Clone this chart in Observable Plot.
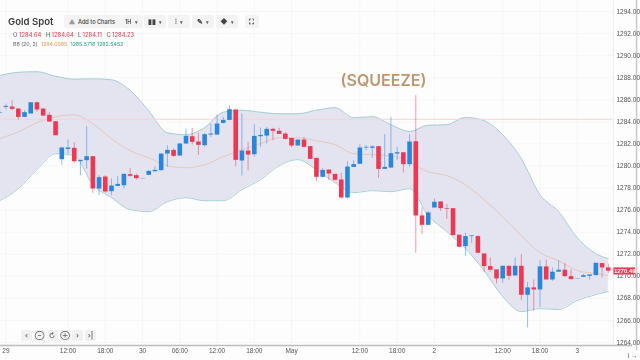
<!DOCTYPE html>
<html>
<head>
<meta charset="utf-8">
<script src="https://cdn.jsdelivr.net/npm/d3@7"></script>
<script src="https://cdn.jsdelivr.net/npm/@observablehq/plot@0.6"></script>
<style>
html,body{margin:0;padding:0;background:#fdfdfd;width:640px;height:360px;overflow:hidden}
#wrap{position:relative;width:640px;height:360px;filter:blur(.45px)}
#chart{position:absolute;left:0;top:0}
.t{position:absolute;white-space:nowrap;font-family:Inter,"Noto Sans",sans-serif}
.b{position:absolute;background:#f3f3f3;border-radius:2px;display:flex;align-items:center;justify-content:center;gap:3px;font:600 5.6px Inter,sans-serif;color:#555}
.c{top:329.5px;width:11px;height:11px;background:#f0f0f0;font-size:7px;color:#666}
</style>
</head>
<body>
<div id="wrap"></div>
<script>
const open_ = [1284.77,1285.31,1285.34,1285.16,1284.40,1284.71,1285.73,1285.16,1284.59,1284.01,1280.57,1281.50,1281.60,1280.39,1280.48,1280.84,1277.91,1279.00,1277.67,1278.15,1278.21,1279.21,1279.12,1278.82,1279.15,1279.48,1279.57,1281.08,1281.41,1280.90,1281.99,1282.65,1282.17,1281.84,1282.80,1282.80,1283.86,1284.13,1285.07,1280.45,1281.35,1281.02,1282.65,1282.71,1283.32,1283.14,1282.89,1282.50,1281.81,1282.35,1281.75,1280.69,1278.97,1279.63,1279.24,1278.73,1277.10,1279.87,1280.15,1281.63,1281.60,1281.75,1279.69,1279.81,1281.08,1281.20,1280.12,1282.20,1275.47,1274.62,1276.19,1276.74,1276.13,1276.13,1273.72,1272.69,1273.60,1273.60,1272.03,1270.88,1270.58,1269.76,1270.91,1270.03,1270.91,1268.28,1268.95,1268.76,1270.85,1269.67,1270.37,1270.55,1269.97,1269.76,1269.91,1270.00,1270.06,1271.15,1270.76];
const high_ = [1285.01,1285.61,1285.91,1285.16,1285.01,1285.76,1285.79,1285.16,1284.83,1284.01,1281.69,1282.35,1282.11,1280.51,1283.56,1280.84,1279.12,1279.12,1278.82,1279.06,1279.27,1279.78,1279.27,1278.85,1279.57,1279.93,1281.08,1281.84,1281.53,1282.05,1283.35,1283.41,1282.95,1282.95,1283.80,1284.62,1284.40,1285.46,1285.07,1284.71,1282.14,1283.74,1283.44,1283.50,1283.41,1283.41,1283.04,1282.50,1282.35,1282.59,1281.75,1280.69,1279.75,1279.63,1279.24,1279.33,1280.39,1280.48,1281.93,1281.84,1281.84,1281.75,1282.83,1284.40,1281.69,1281.20,1282.83,1286.37,1276.19,1275.89,1277.01,1276.74,1276.50,1276.13,1273.72,1273.90,1273.69,1273.69,1272.03,1271.66,1270.58,1270.91,1270.91,1271.66,1271.97,1269.43,1269.67,1271.42,1271.48,1270.76,1271.42,1271.18,1270.58,1269.79,1270.15,1270.15,1271.18,1271.18,1271.12];
const low_ = [1284.71,1285.07,1285.01,1284.16,1284.40,1284.71,1284.86,1284.46,1283.95,1282.74,1280.06,1281.08,1280.24,1279.09,1279.72,1277.52,1277.31,1277.52,1277.31,1278.15,1277.91,1278.97,1278.73,1278.82,1279.15,1279.45,1279.57,1279.87,1280.78,1280.87,1281.99,1281.90,1280.96,1281.69,1282.59,1282.80,1283.80,1284.10,1279.93,1279.09,1279.57,1280.78,1281.69,1281.99,1282.29,1282.86,1282.35,1281.63,1281.81,1281.63,1280.60,1278.58,1278.91,1278.67,1278.61,1277.00,1277.00,1279.87,1280.12,1281.38,1280.69,1278.88,1279.69,1279.81,1280.48,1279.36,1279.87,1272.09,1273.78,1274.62,1276.19,1275.89,1275.17,1273.69,1272.63,1271.79,1272.99,1272.03,1270.33,1270.37,1269.31,1269.37,1269.61,1270.03,1267.80,1265.32,1266.83,1267.19,1269.67,1269.55,1270.37,1269.91,1269.67,1269.76,1269.91,1269.67,1270.06,1269.85,1270.21];
const close_ = [1284.83,1285.40,1285.13,1284.40,1284.83,1285.73,1285.07,1284.52,1283.98,1282.74,1281.63,1281.63,1280.39,1280.51,1280.84,1277.91,1278.94,1277.64,1278.18,1278.33,1279.24,1279.06,1278.85,1278.85,1279.51,1279.60,1281.08,1281.41,1280.87,1281.99,1282.68,1282.14,1281.87,1282.83,1282.89,1283.80,1284.13,1285.10,1280.51,1281.35,1280.99,1282.68,1282.77,1283.32,1283.14,1282.86,1282.41,1281.81,1282.35,1281.69,1280.60,1278.97,1279.60,1279.27,1278.70,1277.10,1279.90,1280.12,1281.63,1281.69,1281.72,1279.69,1279.87,1281.11,1281.20,1280.12,1282.17,1275.47,1274.62,1275.74,1276.71,1276.13,1276.07,1273.69,1272.63,1273.60,1273.66,1272.09,1270.88,1270.55,1269.76,1270.91,1270.00,1270.91,1268.28,1268.95,1268.76,1270.85,1269.67,1270.37,1270.55,1269.97,1269.70,1269.79,1270.06,1270.12,1271.18,1270.76,1270.46];

const bandIndex = [0,3,6,9,12,15,18,21,24,27,30,33,36,39,42,45,48,51,54,57,60,63,66,69,72,75,78,81,84,87,90,93,96,98];
const bandUpper = [1288.18,1288.49,1288.54,1288.13,1287.86,1287.90,1287.81,1286.86,1285.01,1283.01,1282.83,1283.47,1284.87,1285.05,1284.87,1284.73,1284.73,1285.05,1285.28,1284.37,1284.46,1283.74,1283.13,1283.69,1283.74,1284.40,1284.10,1282.83,1280.66,1277.40,1275.86,1273.50,1272.05,1271.60];
const bandLower = [1276.85,1277.94,1279.66,1281.11,1280.93,1278.30,1277.12,1276.04,1275.86,1276.76,1277.12,1276.85,1276.85,1277.85,1278.76,1280.02,1280.57,1279.66,1278.48,1277.58,1277.76,1277.67,1277.94,1275.50,1274.05,1272.51,1270.52,1268.16,1266.80,1267.07,1266.98,1267.80,1268.34,1268.61];
const bandMiddle = [1282.47,1283.10,1283.92,1284.46,1284.64,1283.83,1282.47,1281.38,1280.75,1280.02,1279.84,1280.11,1280.84,1281.47,1282.02,1282.56,1282.56,1282.29,1281.93,1281.11,1281.02,1280.93,1280.30,1279.48,1279.12,1278.30,1276.94,1275.40,1273.68,1272.14,1271.41,1270.52,1270.25,1270.07];

const xTickIndex = [1,11,17,23,29,35,41,47,58,64,70,81,87,93];
const xTickLabels = ["29","12:00","18:00","30","06:00","12:00","18:00","May","12:00","18:00","2","12:00","18:00","3"];
const yTicks = [1264,1266,1268,1270,1272,1274,1276,1278,1280,1282,1284,1286,1288,1290,1292,1294];
const lastPrice = 1270.49;
const guidePrice = 1284.23;

const candles = open_.map((o,i)=>({i,o,h:high_[i],l:low_[i],c:close_[i]}));
const band = bandIndex.map((i,k)=>({i,u:bandUpper[k],l:bandLower[k],m:bandMiddle[k]}));
const colorOf = d => d.c >= d.o ? "#2a85dd" : "#ef3652";
const axisFont = '"Liberation Sans",Arial,sans-serif';

const plot = Plot.plot({
  width:640,height:360,marginTop:11,marginBottom:18,marginLeft:0,marginRight:32,
  style:{background:"transparent",fontFamily:axisFont},
  x:{domain:[0,98],range:[-0.8,607.8],axis:null},
  y:{domain:[1264,1294],axis:null},
  marks:[
    Plot.ruleX(xTickIndex,{y1:1263.8,y2:1295,stroke:"#f6f6f6",strokeWidth:1}),
    Plot.ruleY(yTicks,{x1:-1,x2:98.8,stroke:"#f6f6f6",strokeWidth:1}),
    Plot.areaY(band,{x:"i",y1:"l",y2:"u",fill:"#e3e4f0",curve:"monotone-x"}),
    Plot.line(band,{x:"i",y:"u",stroke:"#a6d0d2",strokeWidth:1,curve:"monotone-x"}),
    Plot.line(band,{x:"i",y:"l",stroke:"#a6d0d2",strokeWidth:1,curve:"monotone-x"}),
    Plot.line(band,{x:"i",y:"m",stroke:"#e8c8b8",strokeWidth:1,curve:"monotone-x"}),
    Plot.ruleY([guidePrice],{x1:-1,x2:98.8,stroke:"#fbd0d8",strokeWidth:1}),
    Plot.ruleX(candles,{x:"i",y1:"l",y2:"h",stroke:colorOf,strokeOpacity:.5,strokeWidth:1}),
    Plot.ruleX(candles,{x:"i",y1:"o",y2:"c",stroke:colorOf,strokeWidth:4.6}),
    Plot.ruleX([98.8],{y1:1263.8,y2:1295,stroke:"#ececec",strokeWidth:1}),
    Plot.ruleX([102.55],{y1:1263.25,y2:1295,stroke:"#c9c9c9",strokeWidth:1.5}),
    Plot.ruleY([1263.72],{x1:-1,x2:101.9,stroke:"#bdbdbd",strokeWidth:1.5}),
    Plot.axisX(xTickIndex,{anchor:"bottom",tickSize:0,tickPadding:6,fontSize:6.5,fill:"#555",tickFormat:(d,i)=>xTickLabels[i]}),
    Plot.axisY(yTicks,{anchor:"right",tickSize:0,tickPadding:8,fontSize:6.5,fill:"#555",tickFormat:d=>d.toFixed(2)}),
    Plot.rect([lastPrice],{x1:98.9,x2:102.4,y1:1270.12,y2:1270.76,fill:"#ef3652"}),
    Plot.text([lastPrice],{x:100.65,y:lastPrice,text:d=>d.toFixed(2),fill:"#fff",fontSize:6,fontWeight:600}),
    Plot.text(["(SQUEEZE)"],{x:61.8,y:1287.72,text:d=>d,fill:"#c09670",fontSize:16,fontWeight:600,fontFamily:"Inter,sans-serif"})
  ]
});
plot.id="chart";
const wrap=document.getElementById("wrap");
wrap.appendChild(plot);

function t(x,y,text,size,color,weight){
  const e=document.createElement("div");e.className="t";e.textContent=text;
  e.style.cssText=`left:${x}px;top:${y}px;font-size:${size}px;color:${color};font-weight:${weight||400};line-height:1;transform:translateY(-50%)`;
  wrap.appendChild(e);
}
function b(x,w,html){
  const e=document.createElement("div");e.className="b";
  e.style.cssText=`left:${x}px;top:15px;width:${w}px;height:13px`;e.innerHTML=html;wrap.appendChild(e);
}
t(8,21.5,"Gold Spot",9.6,"#3a3a3a",600);
const caret='<span style="font-size:5px;color:#666">▾</span>';
const ic=s=>`<span style="font-size:7px;color:#444">${s}</span>`;
b(63.5,57,'<span style="font-size:7px;color:#999">⛰</span>Add to Charts');
b(120.5,21.5,'1H '+caret);
b(144,21.5,ic("▮▮")+caret);
b(168,22,ic("⫶")+caret);
b(192,22,ic("✎")+caret);
b(216,22,ic("◆")+caret);
b(244.5,14,ic("⛶"));
const red="#ef4a62",gr="#666";
[[13,"O",gr],[19,"1284.64",red],[46,"H",gr],[51.5,"1284.64",red],[78,"L",gr],[82.5,"1284.11",red],[106.5,"C",gr],[112,"1284.23",red]]
  .forEach(([x,s,c])=>t(x,35,s,5.8,c,500));
t(13,44.8,"BB (20, 2)",5.2,"#777",500);
t(41,44.8,"1284.0585",5.2,"#e9a35f",500);
t(70.5,44.8,"1285.5718",5.2,"#3aa896",500);
t(97,44.8,"1282.5452",5.2,"#3aa896",500);
[[21,"‹"],[34,"⊖"],[46.5,"↻"],[59.5,"⊕"],[72,"›"],[85,"›|"]].forEach(([x,s])=>{
  const e=document.createElement("div");e.className="b c";e.style.left=x+"px";e.textContent=s;wrap.appendChild(e);
});
</script>
</body>
</html>
